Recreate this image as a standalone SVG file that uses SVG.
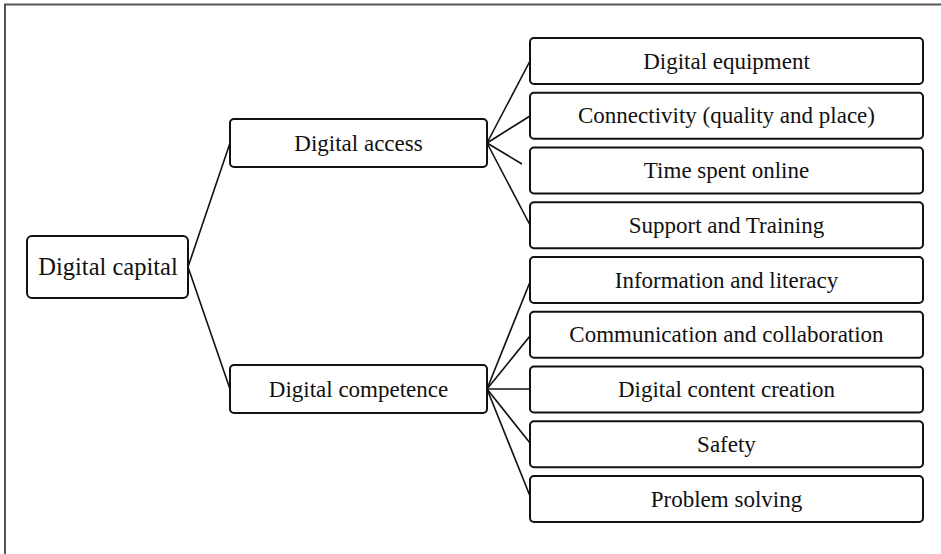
<svg xmlns="http://www.w3.org/2000/svg" width="941" height="554" viewBox="0 0 941 554">
<style>
.box{fill:#fff;stroke:#111;stroke-width:2}
.t{font-family:"Liberation Serif","Times New Roman",serif;font-size:23px;fill:#111;text-anchor:middle}
.big{font-size:24.5px}
.ln{stroke:#111;stroke-width:1.6;fill:none}
</style>
<rect x="0" y="0" width="941" height="554" fill="#fff"/>
<path d="M5,554 V4.5 H941" fill="none" stroke="#555" stroke-width="2"/>
<g id="connectors">
<line class="ln" x1="188" y1="267" x2="230" y2="143"/>
<line class="ln" x1="188" y1="267" x2="230" y2="389"/>
<line class="ln" x1="487" y1="143" x2="530" y2="61"/>
<line class="ln" x1="487" y1="143" x2="530" y2="116"/>
<line class="ln" x1="487" y1="143" x2="522" y2="164"/>
<line class="ln" x1="487" y1="143" x2="530" y2="225"/>
<line class="ln" x1="487" y1="389" x2="530" y2="282"/>
<line class="ln" x1="487" y1="389" x2="530" y2="336"/>
<line class="ln" x1="487" y1="389" x2="530" y2="389"/>
<line class="ln" x1="487" y1="389" x2="530" y2="443"/>
<line class="ln" x1="487" y1="389" x2="530" y2="496"/>
</g>
<g id="n-capital"><rect class="box" x="27" y="236" width="161" height="62" rx="5"/><text class="t big" x="108" y="275">Digital capital</text></g>
<g id="n-access"><rect class="box" x="230" y="119" width="257" height="48" rx="4"/><text class="t" x="358.5" y="150.5">Digital access</text></g>
<g id="n-competence"><rect class="box" x="230" y="365" width="257" height="48" rx="4"/><text class="t" x="358.5" y="396.5">Digital competence</text></g>
<g id="n-equipment"><rect class="box" x="530" y="38" width="393" height="46" rx="4"/><text class="t" x="726.5" y="68.5">Digital equipment</text></g>
<g id="n-connectivity"><rect class="box" x="530" y="92.75" width="393" height="46" rx="4"/><text class="t" x="726.5" y="123.25">Connectivity (quality and place)</text></g>
<g id="n-time"><rect class="box" x="530" y="147.5" width="393" height="46" rx="4"/><text class="t" x="726.5" y="178">Time spent online</text></g>
<g id="n-support"><rect class="box" x="530" y="202.25" width="393" height="46" rx="4"/><text class="t" x="726.5" y="232.75">Support and Training</text></g>
<g id="n-information"><rect class="box" x="530" y="257" width="393" height="46" rx="4"/><text class="t" x="726.5" y="287.5">Information and literacy</text></g>
<g id="n-communication"><rect class="box" x="530" y="311.75" width="393" height="46" rx="4"/><text class="t" x="726.5" y="342.25">Communication and collaboration</text></g>
<g id="n-content"><rect class="box" x="530" y="366.5" width="393" height="46" rx="4"/><text class="t" x="726.5" y="397">Digital content creation</text></g>
<g id="n-safety"><rect class="box" x="530" y="421.25" width="393" height="46" rx="4"/><text class="t" x="726.5" y="451.75">Safety</text></g>
<g id="n-problem"><rect class="box" x="530" y="476" width="393" height="46" rx="4"/><text class="t" x="726.5" y="506.5">Problem solving</text></g>
</svg>
